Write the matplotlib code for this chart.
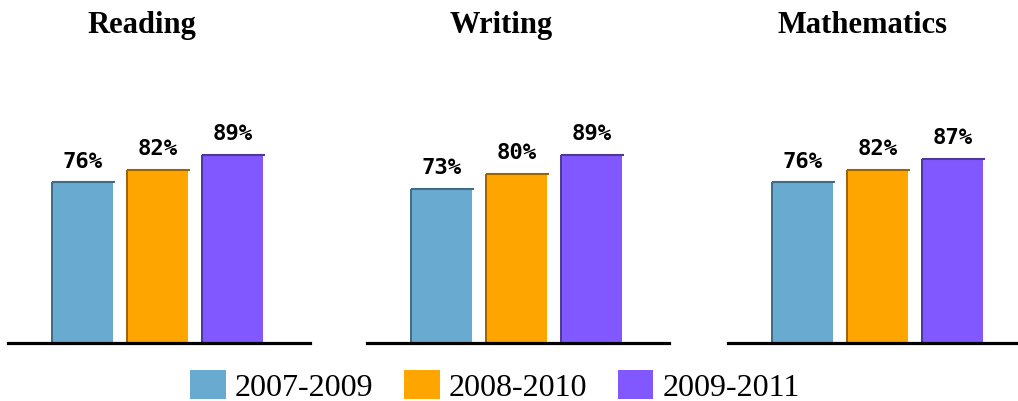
import matplotlib.pyplot as plt
from matplotlib.patches import Patch

# values
subjects = ["Reading", "Writing", "Mathematics"]
periods = ["2007-2009", "2008-2010", "2009-2011"]
reading = [76, 82, 89]
writing = [73, 80, 89]
mathematics = [76, 82, 87]
values = [reading, writing, mathematics]

colors = ["#69aad0", "#ffa500", "#8158ff"]
edges = ["#3f6b85", "#9a6400", "#4d3799"]

W, H = 1018, 402
fig = plt.figure(figsize=(W / 100, H / 100), dpi=100)

base_y = 344          # pixel row of the axis line
px_per_pct = 2.115
panel_left = [8, 367, 728]
panel_w = 302
slot = 75             # px between bar centres
first_c = 74.5        # first bar centre from panel left
bar_w = 61 / slot

for k, (name, vals) in enumerate(zip(subjects, values)):
    ax = fig.add_axes([panel_left[k] / W, (H - base_y) / H, panel_w / W, base_y / H])
    x = list(range(len(vals)))
    ax.bar(x, vals, width=bar_w, color=colors, edgecolor="none", zorder=2)
    # dark top and left edges
    for i, v in enumerate(vals):
        ax.plot([i - bar_w / 2, i + bar_w / 2 + 0.03], [v, v], color=edges[i], lw=1.5,
                solid_capstyle="butt", zorder=3)
        ax.plot([i - bar_w / 2, i - bar_w / 2], [0, v], color=edges[i], lw=1.4,
                solid_capstyle="butt", zorder=3)
        ax.text(i, v + 5.5, f"{v}%", ha="center", va="bottom",
                family="DejaVu Sans Mono", fontsize=16, fontweight="bold")
    ax.set_xlim(-first_c / slot, (panel_w - first_c) / slot)
    ax.set_ylim(0, base_y / px_per_pct)
    for s in ["top", "left", "right"]:
        ax.spines[s].set_visible(False)
    ax.spines["bottom"].set_linewidth(2.3)
    ax.spines["bottom"].set_zorder(4)
    ax.set_xticks([])
    ax.set_yticks([])
    fig.text((panel_left[k] + 134) / W, (H - 33) / H, name, ha="center", va="baseline",
             family="Liberation Serif", fontsize=22, fontweight="bold")

handles = [Patch(facecolor=c, edgecolor="none") for c in colors]
fig.legend(handles, periods, loc="center", bbox_to_anchor=(495 / W, (H - 387) / H),
           ncol=3, frameon=False, prop={"family": "Liberation Serif", "size": 23},
           handlelength=1.12, handleheight=1.05, handletextpad=0.3,
           columnspacing=0.94, borderpad=0, borderaxespad=0)

fig.savefig("out.png", dpi=100)
